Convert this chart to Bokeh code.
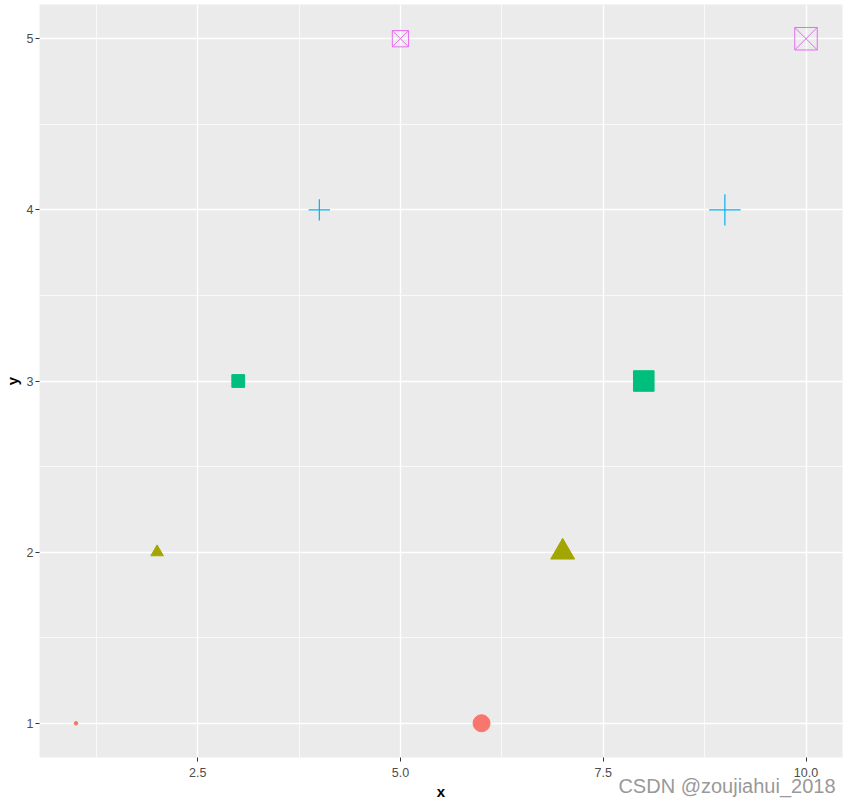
import math
from bokeh.plotting import figure
from bokeh.models import ColumnDataSource, Range1d, FixedTicker, Title
from bokeh.embed import file_html
from bokeh.resources import INLINE

# ---- data ----
xs = [1, 2, 3, 4, 5, 6, 7, 8, 9, 10]
ys = [1, 2, 3, 4, 5, 1, 2, 3, 4, 5]
groups = ["1", "2", "3", "4", "5", "1", "2", "3", "4", "5"]
group_levels = ["1", "2", "3", "4", "5"]
group_colors = ["#F8766D", "#A3A500", "#00BF7D", "#00B0F6", "#E76BF3"]
group_markers = ["circle", "triangle", "square", "cross", "square_x"]
x_ticks = [2.5, 5.0, 7.5, 10.0]
x_tick_labels = ["2.5", "5.0", "7.5", "10.0"]
y_ticks = [1, 2, 3, 4, 5]

# ---- styles ----
marker_scale = {"circle": 3.6, "triangle": 4.7, "square": 3.8, "cross": 5.5, "square_x": 3.75}
filled = {"circle": True, "triangle": True, "square": True, "cross": False, "square_x": False}

xmin, xmax = min(xs), max(xs)
def size_scale(v):
    return 1 + 5 * math.sqrt((v - xmin) / (xmax - xmin))

xr = xmax - xmin
yr = max(ys) - min(ys)
x_range = Range1d(xmin - 0.05 * xr, xmax + 0.05 * xr)
y_range = Range1d(min(ys) - 0.05 * yr, max(ys) + 0.05 * yr)

p = figure(width=850, height=807, x_range=x_range, y_range=y_range,
           output_backend="svg", toolbar_location=None,
           min_border_left=39, min_border_right=8, min_border_top=4, min_border_bottom=50)

p.background_fill_color = "#EBEBEB"
p.border_fill_color = "white"
p.outline_line_color = None

for g, col, mk in zip(group_levels, group_colors, group_markers):
    idx = [i for i, gg in enumerate(groups) if gg == g]
    src = ColumnDataSource(dict(
        x=[xs[i] for i in idx],
        y=[ys[i] for i in idx],
        s=[size_scale(xs[i]) * marker_scale[mk] for i in idx],
    ))
    if filled[mk]:
        p.scatter("x", "y", source=src, marker=mk, size="s",
                  fill_color=col, line_color=col, line_width=1)
    else:
        p.scatter("x", "y", source=src, marker=mk, size="s",
                  fill_color=None, line_color=col, line_width=1.2 if mk == "cross" else 1.0)

p.xaxis.ticker = FixedTicker(ticks=x_ticks, minor_ticks=[1.25, 3.75, 6.25, 8.75])
p.yaxis.ticker = FixedTicker(ticks=y_ticks, minor_ticks=[1.5, 2.5, 3.5, 4.5])
p.xaxis.major_label_overrides = {t: l for t, l in zip(x_ticks, x_tick_labels)}

for ax in (p.xaxis, p.yaxis):
    ax.axis_line_color = None
    ax.major_tick_in = 0
    ax.major_tick_out = 4
    ax.major_tick_line_color = "#333333"
    ax.major_tick_line_width = 1
    ax.minor_tick_line_color = None
    ax.major_label_text_font = "Liberation Sans"
    ax.major_label_text_font_size = "12.5px"
    ax.major_label_text_color = "#4D4D4D"
    ax.axis_label_text_font = "Liberation Sans"
    ax.axis_label_text_font_size = "15px"
    ax.axis_label_text_font_style = "bold"
    ax.axis_label_text_color = "black"

p.yaxis.major_label_standoff = 2
p.yaxis.axis_label_standoff = 3
p.xaxis.major_label_standoff = 6
p.xaxis.axis_label_standoff = 3

p.xaxis.axis_label = "x"
p.yaxis.axis_label = "y"
p.yaxis.major_label_orientation = "horizontal"

for grid in (p.xgrid, p.ygrid):
    grid.grid_line_color = "white"
    grid.grid_line_width = 1.4
    grid.minor_grid_line_color = "white"
    grid.minor_grid_line_width = 0.7

# watermark: a title in the bottom panel, pulled up into the axis area
wm = Title(text="CSDN @zoujiahui_2018", align="right", vertical_align="top",
           offset=7, standoff=-56,
           text_font="Liberation Sans", text_font_size="20px",
           text_font_style="normal", text_color="#999999")
p.add_layout(wm, "below")

open("out.html", "w").write(file_html(p, INLINE))
